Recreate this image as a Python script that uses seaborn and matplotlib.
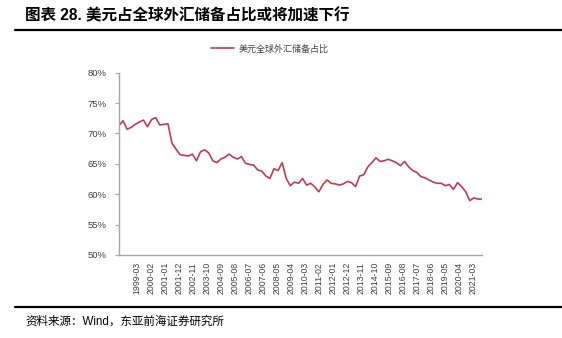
import numpy as np
import pandas as pd
import matplotlib
matplotlib.use("Agg")
import matplotlib.pyplot as plt
import seaborn as sns
from matplotlib.lines import Line2D

# USD share of global FX reserves, quarterly, 1999Q1 - 2021Q2 (%)
usd_share = [
    71.3, 72.1, 70.7, 71.0,
    71.5, 71.9, 72.2, 71.1,
    72.3, 72.6, 71.4, 71.5,
    71.6, 68.4, 67.4, 66.5,
    66.4, 66.3, 66.6, 65.5,
    67.0, 67.3, 66.8, 65.5,
    65.2, 65.8, 66.1, 66.6,
    66.1, 65.8, 66.2, 65.1,
    64.9, 64.8, 64.0, 63.8,
    63.0, 62.6, 64.2, 63.9,
    65.2, 62.6, 61.4, 62.0,
    61.8, 62.6, 61.5, 61.8,
    61.2, 60.4, 61.6, 62.35,
    61.8, 61.7, 61.5, 61.7,
    62.1, 61.9, 61.25, 63.0,
    63.2, 64.5, 65.2, 66.0,
    65.4, 65.5, 65.75, 65.5,
    65.2, 64.7, 65.4, 64.5,
    63.9, 63.6, 62.9, 62.7,
    62.35, 62.0, 61.8, 61.8,
    61.4, 61.6, 60.8, 61.9,
    61.25, 60.4, 58.95, 59.4,
    59.2, 59.2,
]
quarters = pd.period_range("1999Q1", periods=len(usd_share), freq="Q")

x_labels = [
    "1999-03", "2000-02", "2001-01", "2001-12", "2002-11", "2003-10",
    "2004-09", "2005-08", "2006-07", "2007-06", "2008-05", "2009-04",
    "2010-03", "2011-02", "2012-01", "2012-12", "2013-11", "2014-10",
    "2015-09", "2016-08", "2017-07", "2018-06", "2019-05", "2020-04",
    "2021-03",
]
y_ticks = [50, 55, 60, 65, 70, 75, 80]

series_name = "美元全球外汇储备占比"
title_text = "图表 28. 美元占全球外汇储备占比或将加速下行"
source_text = "资料来源：Wind，东亚前海证券研究所"

# month index counted from 1999-03 for each quarter end
month_idx = [(q.year - 1999) * 12 + q.quarter * 3 - 3 for q in quarters]
df = pd.DataFrame({"month": month_idx, "share": usd_share})

sns.set_theme(style="white")
fonts = ["Liberation Sans", "Noto Sans CJK SC", "DejaVu Sans"]
plt.rcParams["font.family"] = fonts

line_color = "#C33B4F"
axis_gray = "#A6A6A6"
text_gray = "#404040"

fig = plt.figure(figsize=(5.62, 3.38), dpi=100)
ax = fig.add_axes([0.2117, 0.2456, 0.6460, 0.5393])

sns.lineplot(data=df, x="month", y="share", ax=ax, color=line_color,
             linewidth=1.2, legend=False)

ax.set_xlim(0, max(month_idx))
ax.set_ylim(50, 80)
ax.set_yticks(y_ticks)
ax.set_yticklabels([f"{v}%" for v in y_ticks], fontsize=6.8, color=text_gray)

# category labels spread evenly along the month axis
label_pos = np.linspace(13.1, 260.6, len(x_labels))
ax.set_xticks(label_pos)
ax.set_xticklabels(x_labels, rotation=90, fontsize=6.3, color=text_gray)
ax.tick_params(axis="x", length=0, pad=5)
ax.tick_params(axis="y", length=3, width=0.8, color=axis_gray, pad=6,
               direction="out", left=True)

ax.set_xlabel("")
ax.set_ylabel("")
for side in ("top", "right"):
    ax.spines[side].set_visible(False)
for side in ("left", "bottom"):
    ax.spines[side].set_color(axis_gray)
    ax.spines[side].set_linewidth(1.0)
ax.grid(False)

# legend above the plot
handle = Line2D([], [], color=line_color, linewidth=1.2)
fig.legend([handle], [series_name], loc="center", bbox_to_anchor=(0.48, 0.855),
           frameon=False, fontsize=6.5, handlelength=2.6, handletextpad=0.5,
           labelcolor=text_gray)

# header and footer
fig.text(0.0445, 0.953, title_text, fontsize=11.2, fontweight="bold",
         color="black", ha="left", va="center")
fig.add_artist(Line2D([0.027, 1.0], [1 - 29.5 / 338, 1 - 29.5 / 338],
                      color="black", linewidth=1.6))
fig.add_artist(Line2D([0.027, 1.0], [1 - 307 / 338, 1 - 307 / 338],
                      color="black", linewidth=1.6))
fig.text(0.0445, 1 - 322 / 338, source_text, fontsize=8.3, color="black",
         ha="left", va="center")

fig.savefig("out.png", dpi=100)
